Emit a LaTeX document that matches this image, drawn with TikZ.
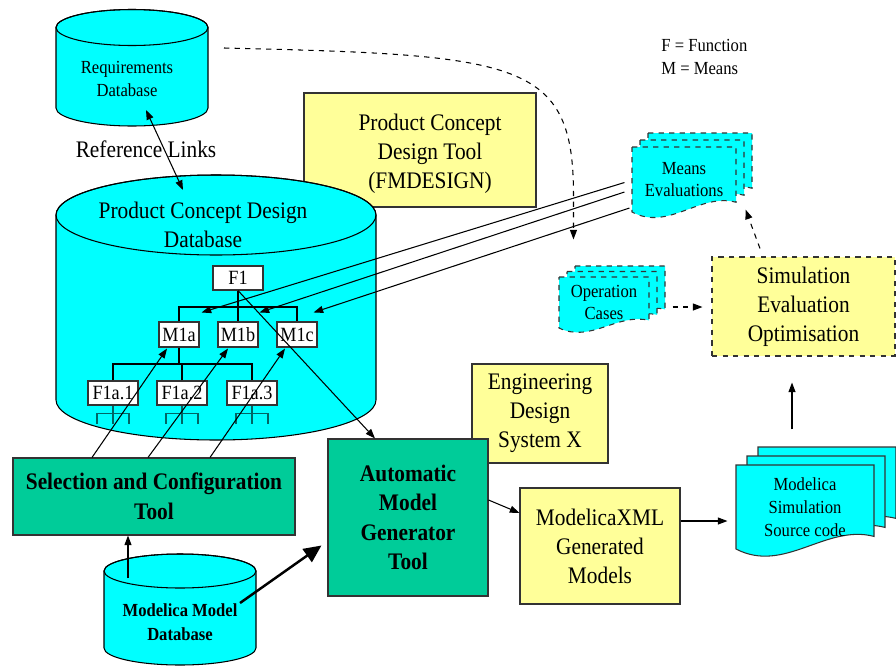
\documentclass[tikz,border=0pt]{standalone}
\usepackage{fontspec}
\setmainfont{Liberation Serif}[FakeStretch=0.9]
\usepackage{xcolor}
\usepackage{tikz}
\usetikzlibrary{arrows.meta, positioning}

\definecolor{dbcyan}{HTML}{00FFFF}
\definecolor{toolgreen}{HTML}{00CC99}
\definecolor{paleyellow}{HTML}{FFFF99}
\definecolor{stubteal}{HTML}{006666}

% database cylinder: centre x, top ellipse y, bottom ellipse y, x radius, y radius
\newcommand{\dbcyl}[5]{%
  \filldraw[fill=dbcyan] ({#1-#4},{#2}) -- ({#1-#4},{#3}) arc (180:0:#4 and #5)
    -- ({#1+#4},{#2}) arc (0:-180:#4 and #5) -- cycle;
  \draw (#1,#2) ellipse (#4 and #5);
}
% one page with a wavy lower edge: x, y (top left), width, height, style
\newcommand{\docpage}[5]{%
  \filldraw[#5] ({#1},{#2}) -- ({#1+#3},{#2}) -- ({#1+#3},{#2+0.85*#4})
    .. controls ({#1+0.65*#3},{#2+0.7*#4}) and ({#1+0.35*#3},{#2+1.3*#4}) .. ({#1},{#2+#4}) -- cycle;
}
% three stacked pages: x, y, width, height, x step, y step (upwards), style
\newcommand{\docstack}[7]{%
  \docpage{#1+2*#5}{#2-2*#6}{#3}{#4}{#7}
  \docpage{#1+#5}{#2-#6}{#3}{#4}{#7}
  \docpage{#1}{#2}{#3}{#4}{#7}
}

\begin{document}
\begin{tikzpicture}[
  x=0.2mm, y=-0.2mm,
  line width=0.6pt,
  bigtext/.style={font=\fontsize{13.5}{16.5}\selectfont},
  boldtext/.style={font=\fontsize{13.5}{16.8}\selectfont\bfseries},
  smalltext/.style={font=\fontsize{10.5}{13}\selectfont},
  toolbox/.style={
    rectangle,
    draw=black!80,
    fill=#1,
    align=center,
    inner sep=0pt
  },
  fmbox/.style={
    rectangle,
    draw=black!80,
    fill=white,
    minimum width=8mm,
    minimum height=5mm,
    inner sep=0pt,
    font=\fontsize{11.5}{12}\selectfont
  },
  docnode/.style={
    rectangle,
    align=center,
    inner sep=0pt,
    smalltext
  },
  docsolid/.style={draw=black!80, fill=dbcyan},
  docdashed/.style={draw=black!80, fill=dbcyan, dashed},
  stub/.style={draw=stubteal},
  flow/.style={-{Triangle[length=5.5pt,width=4pt]}},
  biflow/.style={{Triangle[length=5.5pt,width=4pt]}-{Triangle[length=5.5pt,width=4pt]}},
  dashflow/.style={-{Triangle[length=5.5pt,width=4pt]}, dashed},
  thickflow/.style={-{Triangle[length=10pt,width=9pt]}, line width=1.4pt}
]
\useasboundingbox (0,0) rectangle (896,666);

% link from the requirements to the operation cases
\coordinate (reqlink) at (224,48);
\node[docnode, minimum width=18mm, minimum height=10.2mm] (opcases) at (604,302.5) {};
\draw[dashflow] (reqlink) .. controls (520,55) and (574,60) .. ([shift={(15,-80)}]opcases.north west)
  -- ([shift={(15,-37)}]opcases.north west);

% concept design tool and databases
\node[toolbox=paleyellow, minimum width=46.4mm, minimum height=22.8mm] (fmtool) at (420,150) {};
\node[bigtext, align=center] (fmtooltext) at (430,154) {Product Concept\\Design Tool\\(FMDESIGN)};
\dbcyl{132}{27.5}{108}{76}{18}
\node[smalltext, align=center] (reqdb) at (127,79) {Requirements\\Database};
\node[bigtext] (reflinks) at (146,149) {Reference Links};
\dbcyl{216}{215}{400}{160}{40}
\node[bigtext, align=center] (pcddb) at (203,225) {Product Concept Design\\Database};

% function / means tree
\node[fmbox, minimum width=10mm, minimum height=4.8mm] (f1) at (238,278) {F1};
\node[fmbox] (m1a) at (179,334.5) {M1a};
\node[fmbox] (m1b) at (238,334.5) {M1b};
\node[fmbox] (m1c) at (297,334.5) {M1c};
\node[fmbox, minimum width=10mm, minimum height=4.8mm] (f1a1) at (113,393) {F1a.1};
\node[fmbox, minimum width=10mm, minimum height=4.8mm] (f1a2) at (182,393) {F1a.2};
\node[fmbox, minimum width=10mm, minimum height=4.8mm] (f1a3) at (252,393) {F1a.3};
\coordinate (fbar) at (238,307);
\coordinate (mbar) at (179,364);
\draw (f1.south) -- (m1b.north);
\draw (m1a.north) |- (fbar) -| (m1c.north);
\draw (m1a.south) -- (m1a.south |- mbar);
\draw (f1a1.north) |- (mbar) -| (f1a3.north);
\draw (f1a2.north) -- (f1a2.north |- mbar);
\foreach \b in {f1a1,f1a2,f1a3} {
  \draw[stub] (\b.south) -- ++(0,18);
  \draw[stub] ([shift={(-16,18)}]\b.south) -- ++(0,-10) -- ++(32,0) -- ++(0,10);
}

% tools
\node[toolbox=paleyellow, minimum width=27.2mm, minimum height=19.8mm, bigtext] (eds) at (540,413.5) {Engineering\\Design\\System X};
\node[toolbox=toolgreen, minimum width=32mm, minimum height=31.4mm, boldtext] (amg) at (408,517.5) {Automatic\\Model\\Generator\\Tool};
\node[toolbox=toolgreen, minimum width=56.4mm, minimum height=15.4mm, boldtext] (seltool) at (154,496.5) {Selection and Configuration\\Tool};
\dbcyl{180}{571}{648}{76}{17}
\node[font=\fontsize{10.5}{13.6}\selectfont\bfseries, align=center, inner sep=0pt] (mdb) at (180,622) {Modelica Model\\Database};
\node[toolbox=paleyellow, minimum width=32mm, minimum height=23.2mm, bigtext] (xmlgen) at (600,546) {ModelicaXML\\Generated\\Models};

% documents and simulation
\docstack{632}{147}{104}{65}{8}{7}{docdashed}
\node[docnode, minimum width=20.8mm, minimum height=13mm] (meanseval) at (684,179.5) {Means\\Evaluations};
\docstack{559}{277}{90}{51}{8}{5.5}{docdashed}
\node[docnode] at (opcases) {Operation\\Cases};
\docstack{736}{465}{138}{84}{11}{9}{docsolid}
\node[docnode, minimum width=27.6mm, minimum height=16.8mm] (simcode) at (805,507) {Modelica\\Simulation\\Source code};
\node[toolbox=paleyellow, dashed, minimum width=36.6mm, minimum height=19.8mm, bigtext] (simeval) at (803.5,306.5) {Simulation\\Evaluation\\Optimisation};
\node[smalltext, align=left, anchor=west] (legend) at (655,57) {F = Function\\M = Means};

% connections
\draw[biflow] ([shift={(19,31)}]reqdb.center) -- ([shift={(-20,-35)}]pcddb.center);
\draw[flow] ([shift={(-7,3)}]meanseval.west) -- ([shift={(2,-9)}]m1a.north east);
\draw[flow] ([shift={(-7,12.5)}]meanseval.west) -- ([shift={(1,-9)}]m1b.north east);
\draw[flow] ([shift={(-2,28.5)}]meanseval.west) -- ([shift={(-4,-9)}]m1c.north east);
\draw[flow] ([shift={(-62,0)}]seltool.north) -- ([shift={(-12,1)}]m1a.south);
\draw[flow] ([shift={(-6,0)}]seltool.north) -- ([shift={(-10,1)}]m1b.south);
\draw[flow] ([shift={(56,0)}]seltool.north) -- ([shift={(-12,1)}]m1c.south);
\draw[flow] (f1.south) -- ([shift={(-33,0)}]amg.north);
\coordinate (mdbtop) at (128,578);
\draw[flow] (mdbtop) -- (mdbtop |- seltool.south);
\coordinate (mdbout) at (240,603);
\draw[thickflow] (mdbout) -- ([shift={(-6,28)}]amg.west);
\draw[flow] ([shift={(0,-17.5)}]amg.east) -- ([shift={(0,-33)}]xmlgen.west);
\draw[flow] ([shift={(0,-25)}]xmlgen.east) -- ([shift={(-8,14)}]simcode.west);
\draw[flow] ([shift={(-13,-35)}]simcode.north) -- ([shift={(-11.5,26)}]simeval.south);
\draw[dashflow] ([shift={(-43.5,-8)}]simeval.north) -- ([shift={(9,-3)}]meanseval.south east);
\draw[dashflow] ([shift={(23,4.5)}]opcases.east) -- ([shift={(-9,0.5)}]simeval.west);
\end{tikzpicture}
\end{document}
